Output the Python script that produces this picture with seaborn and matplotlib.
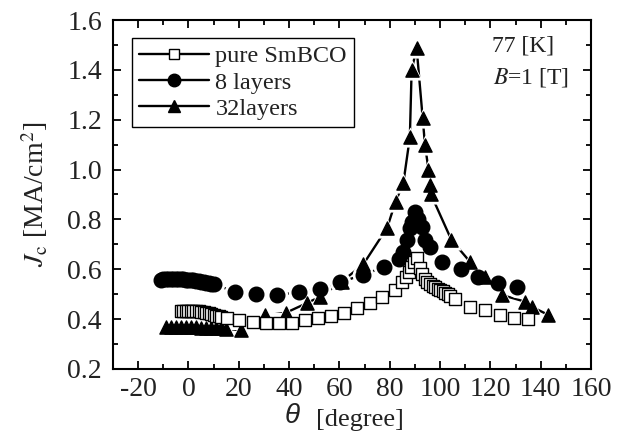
import numpy as np
import pandas as pd
import seaborn as sns
import matplotlib
matplotlib.use("Agg")
import matplotlib.pyplot as plt
from matplotlib.lines import Line2D
from matplotlib.ticker import MultipleLocator, FormatStrFormatter

# Critical current density vs field angle, 77 K, B = 1 T
theta_pure = [-3, -2, -1, 0, 1, 2, 3, 4, 5, 6, 7, 8, 9, 10, 11, 12, 13,
              15.2, 20.2, 25.5, 30.7, 36.0, 41.0, 46.3, 51.6, 56.6, 61.8, 66.9,
              72.1, 77.0, 82.0, 84.7, 86.5, 87.5, 88.5, 89.5, 90.7, 92.0, 93.0,
              94.0, 95.0, 96.0, 97.0, 98.0, 99.0, 100.0, 101.0, 102.0, 103.0,
              104.0, 105.9, 111.9, 117.9, 123.8, 129.5, 135.1]
jc_pure = [0.432, 0.432, 0.432, 0.432, 0.432, 0.432, 0.432, 0.432, 0.430,
           0.428, 0.426, 0.423, 0.420, 0.417, 0.414, 0.411, 0.408,
           0.403, 0.396, 0.390, 0.386, 0.386, 0.386, 0.396, 0.403, 0.412,
           0.425, 0.443, 0.463, 0.490, 0.517, 0.550, 0.570, 0.590, 0.610,
           0.630, 0.645, 0.604, 0.580, 0.562, 0.550, 0.541, 0.534, 0.528,
           0.522, 0.516, 0.511, 0.506, 0.500, 0.494, 0.481, 0.450, 0.437,
           0.417, 0.406, 0.400]

theta_8 = [-11, -10, -9, -8, -7, -6, -5, -4, -3, -2, -1, 0, 1, 2, 3, 4, 5,
           6, 7, 8, 9, 10, 18.5, 26.8, 35.3, 43.8, 52.3, 60.2, 69.2, 77.6,
           83.5, 85.4, 86.7, 88.2, 89.0, 90.2, 91.3, 92.7, 94.0, 96.0, 100.6,
           108.2, 115.2, 123.1, 130.4]
jc_8 = [0.557, 0.559, 0.560, 0.561, 0.561, 0.561, 0.561, 0.560, 0.560,
        0.559, 0.558, 0.557, 0.556, 0.555, 0.553, 0.552, 0.550, 0.548,
        0.546, 0.544, 0.542, 0.540, 0.510, 0.500, 0.497, 0.508, 0.521,
        0.548, 0.577, 0.608, 0.640, 0.671, 0.718, 0.765, 0.790, 0.828,
        0.800, 0.771, 0.718, 0.690, 0.630, 0.600, 0.570, 0.544, 0.530]

theta_32 = [-9, -7, -5, -3, -1, 1, 3, 5, 7, 9, 11, 13, 15, 21.0, 30.4,
            38.6, 47.0, 52.3, 60.9, 69.5, 79.0, 82.3, 85.4, 88.0, 88.7,
            90.7, 93.1, 94.0, 95.4, 96.0, 96.4, 104.5, 111.9, 117.9, 124.5,
            133.8, 136.4, 143.0]
jc_32 = [0.370, 0.370, 0.370, 0.369, 0.369, 0.368, 0.367, 0.366, 0.365,
         0.365, 0.364, 0.363, 0.362, 0.355, 0.415, 0.425, 0.464, 0.490,
         0.550, 0.620, 0.767, 0.871, 0.945, 1.130, 1.400, 1.486, 1.206,
         1.100, 1.000, 0.940, 0.900, 0.718, 0.630, 0.570, 0.497, 0.470,
         0.450, 0.417]

labels = ["pure SmBCO", "8 layers", "32layers"]
x_ticks = [-20, 0, 20, 40, 60, 80, 100, 120, 140, 160]
y_ticks = [0.2, 0.4, 0.6, 0.8, 1.0, 1.2, 1.4, 1.6]

sns.set_theme(style="ticks")
plt.rcParams["font.family"] = ["Liberation Serif", "DejaVu Serif"]
plt.rcParams["mathtext.fontset"] = "stix"
plt.rcParams["axes.unicode_minus"] = False
plt.rcParams["axes.linewidth"] = 1.5

fig = plt.figure(figsize=(6.27, 4.34), dpi=100)
ax = fig.add_axes([0.1802, 0.1498, 0.7624, 0.8041])

series = [
    # (label, theta, jc, marker, size, face)
    (labels[2], theta_32, jc_32, "^", 9.5, "black"),
    (labels[1], theta_8, jc_8, "o", 10.5, "black"),
    (labels[0], theta_pure, jc_pure, "s", 9.0, "white"),
]

frames = {lab: pd.DataFrame({"theta": th, "jc": jc}) for lab, th, jc, *_ in series}

# connecting lines
for lab, th, jc, mk, ms, fc in series:
    sns.lineplot(data=frames[lab], x="theta", y="jc", sort=False,
                 estimator=None, color="black", lw=1.7, ax=ax, zorder=1)

# white halos leave a small gap between line and symbol
for lab, th, jc, mk, ms, fc in series:
    sns.scatterplot(data=frames[lab], x="theta", y="jc", marker=mk,
                    s=(ms + 5) ** 2, color="white", linewidth=0, ax=ax,
                    zorder=2)

# symbols
for i, (lab, th, jc, mk, ms, fc) in enumerate(series):
    sns.scatterplot(data=frames[lab], x="theta", y="jc", marker=mk,
                    s=ms ** 2, facecolor=fc, edgecolor="black",
                    linewidth=1.0, ax=ax, zorder=3 + i)

ax.set_xlim(-30, 160)
ax.set_ylim(0.2, 1.6)
ax.set_xticks(x_ticks)
ax.set_yticks(y_ticks)
ax.xaxis.set_minor_locator(MultipleLocator(10))
ax.yaxis.set_minor_locator(MultipleLocator(0.1))
ax.yaxis.set_major_formatter(FormatStrFormatter("%.1f"))
ax.tick_params(which="both", direction="in", top=True, right=True,
               width=1.3, color="black")
ax.tick_params(which="major", length=6, labelsize=20, pad=6)
ax.tick_params(which="minor", length=3.5)
ax.tick_params(axis="y", which="major", pad=8)
for lab in ax.get_xticklabels() + ax.get_yticklabels():
    lab.set_color("#222222")
for sp in ax.spines.values():
    sp.set_color("black")
    sp.set_linewidth(1.5)

ax.set_xlabel("")
ax.set_ylabel(r"$J_{\rm c}$ [MA/cm$^2$]", fontsize=20, color="#222222",
              labelpad=12)
ax.text(0.375, -0.135, "\u03b8", transform=ax.transAxes, fontsize=20,
        family="Liberation Sans", style="italic", ha="center", va="center",
        color="#222222")
ax.text(0.425, -0.145, "[degree]", transform=ax.transAxes, fontsize=19,
        ha="left", va="center", color="#222222")

ax.text(120.5, 1.497, "77 [K]", fontsize=17, ha="left", va="center",
        color="#222222")
ax.text(121, 1.37, r"$B$=1 [T]", fontsize=17, ha="left", va="center",
        color="#222222")

handles = [
    Line2D([], [], color="black", lw=1.7, marker="s", ms=7,
           mfc="white", mec="black", mew=1.0),
    Line2D([], [], color="black", lw=1.7, marker="o", ms=9,
           mfc="black", mec="black"),
    Line2D([], [], color="black", lw=1.7, marker="^", ms=9,
           mfc="black", mec="black"),
]
leg = ax.legend(handles, labels, loc="upper left",
                bbox_to_anchor=(0.039, 0.948), borderaxespad=0,
                fontsize=17.5, handlelength=2.9, handletextpad=0.25,
                labelspacing=0.17, borderpad=0.3, frameon=True,
                fancybox=False, framealpha=1)
leg.get_frame().set_edgecolor("black")
leg.get_frame().set_linewidth(1.0)
for t in leg.get_texts():
    t.set_color("#222222")

fig.savefig("out.png", dpi=100)
